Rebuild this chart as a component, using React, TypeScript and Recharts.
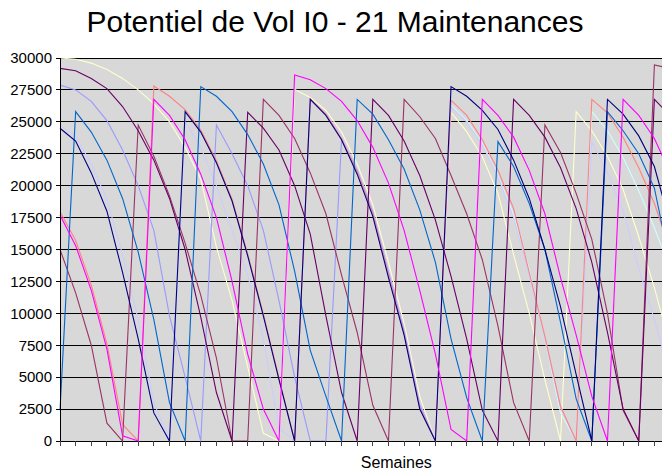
import React from "react";
import { CartesianGrid, Line, LineChart, XAxis, YAxis } from "recharts";

// weeks 0..43, the plot runs past the right edge of the picture
const weeks = Array.from({ length: 44 }, (_, i) => i);
const yTicks = [0, 2500, 5000, 7500, 10000, 12500, 15000, 17500, 20000, 22500, 25000, 27500, 30000];

const yellow = [30000, 29900, 29600, 29100, 28400, 27500, 26400, 25000, 23000, 20500, 15200, 11000, 5800, 600, 0, 27550, 26900, 25900, 24200, 21700, 18500, 14000, 9200, 3500, 0, 25730, 24230, 22270, 19400, 14600, 10000, 4800, 0, 25800, 24300, 22300, 19700, 16000, 12000, 7500];
const cyan = [null, null, null, null, null, null, null, null, null, null, null, null, null, null, null, null, null, null, null, null, null, null, null, null, 0, 26300, 25100, 23300, 20800, 17700, 13400, 8000, 2200, 0, 25800, 24300, 22200, 19600, 16700, 13500];
const lavender = [24700, 23900, 21700, 18900, 14600, 9500, 3000, 0, 25000, 23000, 20000, 16500, 13000, 8000, 1000, 0, 26600, 25700, 23900, 21300, 18100, 13400, 8800, 3000, 0, 26200, 25000, 23200, 20700, 17500, 13000, 8000, 2600, 0, 23450, 21000, 18000, 13500, 9500, 5000];
const periwinkle = [27890, 27500, 26600, 25100, 22800, 20000, 16500, 9800, 5000, 0, 24750, 22500, 20000, 16500, 11000, 5000, 0, 0, 23600, 21200, 17900, 13200, 8600, 2800, 0, null, null, null, null, null, null, null, null, null, null, null, null, null, null, null];
const salmon = [17960, 15700, 12200, 7600, 1300, 0, 27800, 27000, 25950, 24350, 21950, 18950, 14650, 9950, 4950, 0, 26800, 25600, 23700, 21100, 17800, 13000, 8400, 2600, 0, 26700, 25500, 23600, 21200, 18200, 13200, 8200, 2700, 0, 26760, 25700, 23800, 21400, 18600, 15000];
const mauve = [15000, 11600, 7500, 1400, 0, 24750, 22300, 19200, 15500, 11400, 6500, 0, 0, 26760, 25500, 23700, 21000, 17800, 13000, 8500, 2800, 0, 26760, 25400, 23700, 20800, 17800, 14200, 9000, 3000, 0, 24750, 22600, 19400, 15800, 10000, 2400, 0, 29450, 29200];
const purple = [29190, 29000, 28400, 27600, 26200, 24300, 22000, 19000, 15000, 9700, 3800, 0, 25750, 24500, 22800, 20000, 16200, 9800, 3800, 0, 26760, 25500, 23500, 20800, 17300, 12900, 8000, 2400, 0, 26760, 25500, 23800, 21400, 18200, 14000, 8500, 2500, 0, 26760, 25500];
const blue = [2400, 25800, 24200, 22000, 19000, 14800, 9500, 3000, 0, 27760, 27000, 25800, 24000, 21700, 18500, 13300, 7100, 3500, 0, 26760, 25600, 23600, 21300, 18100, 14000, 8000, 3400, 0, 23450, 21500, 18600, 15000, 9300, 3300, 0, 25800, 24300, 22500, 19800, 13900];
const navy = [24500, 23500, 21000, 18000, 13200, 8000, 2200, 0, 25800, 24200, 21800, 18800, 14500, 9800, 4800, 0, 26760, 25500, 23600, 20900, 17600, 12800, 8300, 2500, 0, 27760, 27000, 25900, 24400, 22000, 19000, 15000, 10500, 5200, 0, 26760, 25600, 23900, 21500, 17000];
const magenta = [17700, 15300, 11800, 7200, 400, 0, 26760, 25500, 23600, 20900, 17500, 12500, 6800, 2500, 0, 28670, 28300, 27600, 26600, 25100, 23000, 20200, 16500, 11800, 6800, 900, 0, 26760, 25500, 23800, 21200, 17800, 12800, 8300, 3500, 0, 26760, 25500, 23700, 21000];

const series = [
  { key: "yellow", values: yellow, color: "#FFFFCC" },
  { key: "cyan", values: cyan, color: "#CCFFFF" },
  { key: "lavender", values: lavender, color: "#CCCCFF" },
  { key: "periwinkle", values: periwinkle, color: "#9999FF" },
  { key: "salmon", values: salmon, color: "#FF8080" },
  { key: "mauve", values: mauve, color: "#993366" },
  { key: "purple", values: purple, color: "#660066" },
  { key: "blue", values: blue, color: "#0066CC" },
  { key: "navy", values: navy, color: "#000080" },
  { key: "magenta", values: magenta, color: "#FF00FF" },
];

const data = weeks.slice(0, 40).map((w, i) => {
  const row: Record<string, number | null> = { week: w };
  series.forEach((s) => {
    row[s.key] = s.values[i];
  });
  return row;
});

const font = "'Liberation Sans', Arial, sans-serif";

const App: React.FC = () => {
  return (
    <div
      style={{
        position: "fixed",
        left: 0,
        top: 0,
        width: 662,
        height: 470,
        overflow: "hidden",
        background: "#fff",
        fontFamily: font,
      }}
    >
      <style>{`
        .recharts-cartesian-grid-horizontal line,
        .recharts-cartesian-axis-line,
        .recharts-cartesian-axis-tick-line { shape-rendering: crispEdges; }
      `}</style>
      <div
        style={{
          position: "absolute",
          left: 0,
          top: 7,
          width: 670,
          textAlign: "center",
          fontSize: 30,
          lineHeight: "30px",
          color: "#000",
        }}
      >
        Potentiel de Vol I0 - 21 Maintenances
      </div>
      <div style={{ position: "absolute", left: 0, top: 0 }}>
        <LineChart
          width={760}
          height={470}
          data={data}
          margin={{ top: 58, right: 27.4, left: 0, bottom: 0 }}
        >
          <CartesianGrid vertical={false} stroke="#000" fill="#D8D8D8" fillOpacity={1} />
          <XAxis
            dataKey="week"
            type="number"
            domain={[0, 43]}
            ticks={weeks}
            interval={0}
            height={29}
            tickSize={5}
            tickFormatter={() => ""}
            axisLine={{ stroke: "#000" }}
            tickLine={{ stroke: "#444" }}
            label={{
              value: "Semaines",
              position: "insideBottom",
              offset: 2,
              style: { fontSize: 16, fill: "#000", fontFamily: font },
            }}
          />
          <YAxis
            type="number"
            domain={[0, 30000]}
            ticks={yTicks}
            interval={0}
            width={60}
            tickSize={4}
            tickMargin={4}
            axisLine={{ stroke: "#000" }}
            tickLine={{ stroke: "#000" }}
            tick={{ fontSize: 15, fill: "#000", fontFamily: font }}
          />
          {series.map((s) => (
            <Line
              key={s.key}
              dataKey={s.key}
              type="linear"
              stroke={s.color}
              strokeWidth={1.1}
              dot={false}
              activeDot={false}
              isAnimationActive={false}
            />
          ))}
        </LineChart>
      </div>
    </div>
  );
};

export default App;
